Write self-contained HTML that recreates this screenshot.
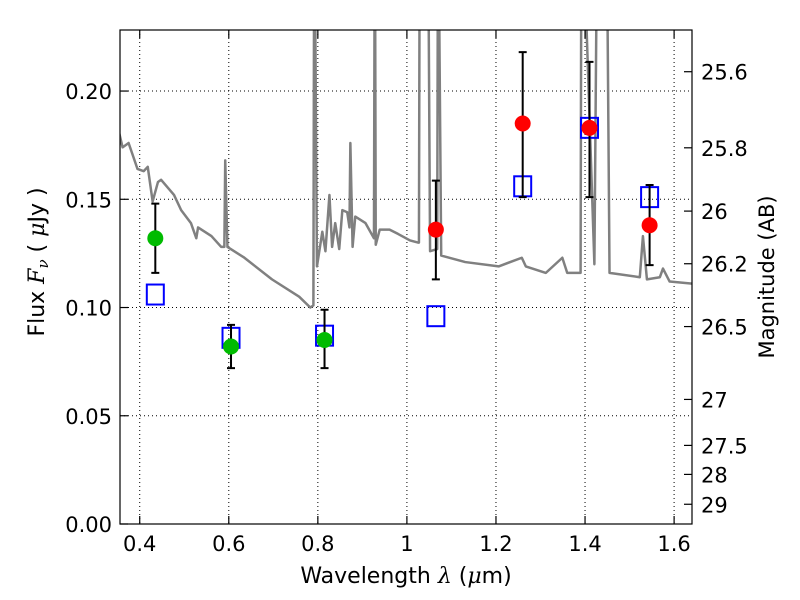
<!DOCTYPE html>
<html><head><meta charset="utf-8"><style>
body{margin:0;background:#fff}
svg{display:block;font-family:"DejaVu Sans","Liberation Sans",sans-serif}
</style></head><body>
<svg id="chart" width="800" height="600">
<rect width="800" height="600" fill="#fff"/>
<g id="grid"></g>
<g id="plot"></g>
<g id="axes"></g>
<text x="406" y="583" font-size="22" text-anchor="middle">Wavelength  <tspan font-style="italic" font-family="DejaVu Serif, serif">λ</tspan> (<tspan font-style="italic" font-family="DejaVu Serif, serif">μ</tspan>m)</text>
<text transform="translate(44,262) rotate(-90)" font-size="22" text-anchor="middle">Flux  <tspan font-style="italic" font-family="DejaVu Serif, serif">F<tspan font-size="15" dy="4">ν</tspan></tspan><tspan dy="-4">  (  </tspan><tspan font-style="italic" font-family="DejaVu Serif, serif">μ</tspan>Jy )</text>
<text transform="translate(774,277) rotate(-90)" font-size="21" text-anchor="middle">Magnitude (AB)</text>
</svg>
<script>
const specLam=[0.350,0.3615,0.375,0.395,0.409,0.418,0.429,0.441,0.448,0.477,0.493,0.515,0.527,0.531,0.561,0.583,0.590,0.592,0.597,0.635,0.697,0.758,0.783,0.790,0.792,0.798,0.810,0.817,0.826,0.832,0.839,0.848,0.855,0.866,0.871,0.873,0.878,0.884,0.907,0.926,0.928,0.930,0.939,0.961,0.980,1.007,1.025,1.027,1.029,1.047,1.052,1.068,1.070,1.077,1.131,1.206,1.258,1.267,1.312,1.349,1.360,1.387,1.390,1.392,1.421,1.428,1.448,1.455,1.523,1.530,1.539,1.568,1.575,1.590,1.641];
const specFlux=[0.184,0.174,0.176,0.164,0.163,0.165,0.149,0.158,0.159,0.152,0.145,0.139,0.132,0.137,0.133,0.128,0.128,0.168,0.128,0.123,0.113,0.105,0.100,0.101,0.3,0.119,0.135,0.126,0.152,0.128,0.139,0.127,0.145,0.144,0.137,0.176,0.128,0.142,0.139,0.132,0.3,0.129,0.136,0.136,0.134,0.131,0.130,0.130,0.3,0.3,0.126,0.127,0.3,0.124,0.121,0.119,0.123,0.119,0.116,0.123,0.116,0.116,0.116,0.3,0.120,0.3,0.3,0.116,0.114,0.133,0.113,0.114,0.118,0.112,0.111];
const greenLam=[0.435,0.605,0.815];
const greenFlux=[0.132,0.082,0.085];
const greenLo=[0.116,0.072,0.072];
const greenHi=[0.148,0.092,0.099];
const redLam=[1.065,1.26,1.41,1.545];
const redFlux=[0.136,0.185,0.183,0.138];
const redLo=[0.113,0.151,0.151,0.1196];
const redHi=[0.1586,0.218,0.2135,0.1566];
const modelLam=[0.435,0.605,0.815,1.065,1.26,1.41,1.545];
const modelFlux=[0.106,0.086,0.087,0.096,0.156,0.183,0.151];
const xTicks=[0.4,0.6,0.8,1.0,1.2,1.4,1.6];
const xTickLabels=["0.4","0.6","0.8","1","1.2","1.4","1.6"];
const yTicks=[0,0.05,0.1,0.15,0.2];
const yTickLabels=["0.00","0.05","0.10","0.15","0.20"];
const magTicks=[25.6,25.8,26,26.2,26.5,27,27.5,28,29];
const magTickLabels=["25.6","25.8","26","26.2","26.5","27","27.5","28","29"];

const L=120,R=692,T=30,B=524,xmin=0.3557,xmax=1.6402,ymin=0,ymax=0.2282;
const X=v=>L+(v-xmin)/(xmax-xmin)*(R-L);
const Y=v=>B-(v-ymin)/(ymax-ymin)*(B-T);
const NS='http://www.w3.org/2000/svg';
function mk(p,t,a){const e=document.createElementNS(NS,t);for(const k in a)e.setAttribute(k,a[k]);p.appendChild(e);return e;}
const grid=document.getElementById('grid'),plot=document.getElementById('plot'),axes=document.getElementById('axes');
xTicks.forEach((v,i)=>{
 const g=mk(grid,'line',{x1:X(v),x2:X(v),y1:T,y2:B,stroke:'#000','stroke-width':1,'stroke-dasharray':'1,3'});
 
 
 const t=mk(axes,'line',{x1:X(v),x2:X(v),y1:B,y2:B-8,stroke:'#000','stroke-width':1.2});
 
 
 mk(axes,'line',{x1:X(v),x2:X(v),y1:T,y2:T+8,stroke:'#000','stroke-width':1.2});
 const l=mk(axes,'text',{x:X(v),y:B+27,'font-size':21,'text-anchor':'middle'});l.textContent=xTickLabels[i];
 
 
});
yTicks.forEach((v,i)=>{
 const g=mk(grid,'line',{x1:L,x2:R,y1:Y(v),y2:Y(v),stroke:'#000','stroke-width':1,'stroke-dasharray':'1,3'});
 
 
 mk(axes,'line',{x1:L,x2:L+8,y1:Y(v),y2:Y(v),stroke:'#000','stroke-width':1.2});
 const l=mk(axes,'text',{x:L-8,y:Y(v)+8,'font-size':21,'text-anchor':'end'});l.textContent=yTickLabels[i];
 
 
});
magTicks.forEach((m,i)=>{
 const f=Math.pow(10,(23.9-m)/2.5);const y=Y(f);
 const t=mk(axes,'line',{x1:R,x2:R-8,y1:y,y2:y,stroke:'#000','stroke-width':1.2});
 
 
 const l=mk(axes,'text',{x:R+9,y:y+8,'font-size':21});l.textContent=magTickLabels[i];
 
 
});
const defs=mk(plot,'defs',{});const cp=mk(defs,'clipPath',{id:'clip'});mk(cp,'rect',{x:L,y:T,width:R-L,height:B-T});
const sp=mk(plot,'polyline',{points:specLam.map((v,i)=>X(v)+','+Y(specFlux[i])).join(' '),fill:'none',stroke:'#808080','stroke-width':2.5,'clip-path':'url(#clip)','stroke-linejoin':'round'});


modelLam.forEach((v,i)=>{
 const r=mk(plot,'rect',{x:X(v)-8.5,y:Y(modelFlux[i])-10,width:17,height:20,fill:'none',stroke:'#0000ff','stroke-width':2});
 
 
});
function pts(lam,fl,lo,hi,col,name){
 lam.forEach((v,i)=>{
  const x=X(v);
  const e=mk(plot,'path',{d:`M${x},${Y(lo[i])}V${Y(hi[i])}M${x-4},${Y(lo[i])}H${x+4}M${x-4},${Y(hi[i])}H${x+4}`,stroke:'#000','stroke-width':2,fill:'none'});
  
  
  const c=mk(plot,'circle',{cx:x,cy:Y(fl[i]),r:8,fill:col});
  
  
 });
}
pts(greenLam,greenFlux,greenLo,greenHi,'#00bb00','green-data-point');
pts(redLam,redFlux,redLo,redHi,'#ff0000','red-data-point');
const fr=mk(axes,'rect',{x:L,y:T,width:R-L,height:B-T,fill:'none',stroke:'#000','stroke-width':1.2});


</script>
</body></html>
